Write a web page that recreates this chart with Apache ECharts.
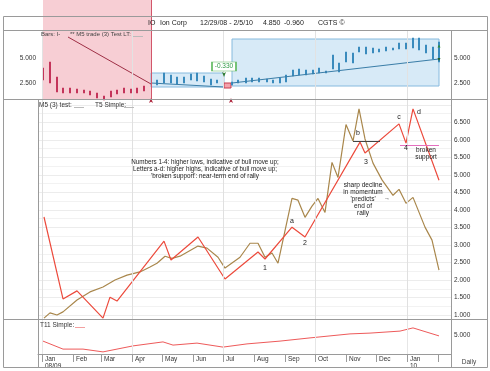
<!DOCTYPE html>
<html><head><meta charset="utf-8">
<script src="https://cdn.jsdelivr.net/npm/echarts@6/dist/echarts.min.js"></script>
<style>html,body{margin:0;padding:0;background:#fff}#c{width:490px;height:371px}</style>
</head><body><div id="c"></div>
<script>
// ---------- tick labels ----------
const monthLabels = ['Jan','Feb','Mar','Apr','May','Jun','Jul','Aug','Sep','Oct','Nov','Dec'];
const yearLabels = {2009:'08/09', 2010:'10'};
const topTickValues = [2.5, 5];
const bottomTickValues = [5];
const quarterDates = ['2009-01-01','2009-04-01','2009-07-01','2009-10-01','2010-01-01'];

// ---------- top panel: weekly bars (high / low) ----------
const barDates = ['2009-01-02','2009-01-09','2009-01-16','2009-01-22','2009-01-29','2009-02-05','2009-02-12','2009-02-18','2009-02-25','2009-03-04','2009-03-11','2009-03-17','2009-03-24','2009-03-31','2009-04-06','2009-04-13',
 '2009-04-26','2009-05-03','2009-05-10','2009-05-16','2009-05-23','2009-05-30','2009-06-05','2009-06-12','2009-06-19','2009-06-25',
 '2009-07-10','2009-07-16','2009-07-24','2009-07-30','2009-08-06','2009-08-14','2009-08-20','2009-08-27','2009-09-02','2009-09-09','2009-09-15','2009-09-22','2009-09-29','2009-10-05','2009-10-12','2009-10-19','2009-10-25','2009-11-01','2009-11-08','2009-11-14','2009-11-21','2009-11-28','2009-12-04','2009-12-11','2009-12-18','2009-12-24','2009-12-31','2010-01-07','2010-01-13','2010-01-20','2010-01-27','2010-02-02'];
const barHigh = [4.0,4.6,3.1,2.0,2.0,1.9,1.8,1.7,1.5,1.2,1.7,1.8,2.0,1.9,2.0,2.2,
 2.8,3.5,3.3,3.1,3.1,3.4,3.5,3.2,2.9,2.8,
 2.6,2.8,3.0,3.0,3.0,2.9,2.8,3.0,3.3,3.8,3.9,3.8,3.8,4.0,3.7,5.3,4.5,5.6,5.5,6.1,6.1,6.0,5.9,6.1,6.0,6.5,6.5,7.0,7.0,6.3,6.1,6.6];
const barLow = [2.8,2.5,1.6,1.5,1.5,1.5,1.5,1.3,1.0,0.8,1.1,1.4,1.5,1.5,1.5,1.7,
 2.3,2.5,2.5,2.4,2.5,2.8,2.7,2.6,2.3,2.5,
 2.3,2.5,2.5,2.6,2.6,2.6,2.5,2.5,2.6,3.2,3.3,3.3,3.4,3.5,3.5,3.9,3.6,4.6,4.5,5.6,5.4,5.5,5.6,5.7,5.8,5.9,5.9,6.0,5.8,5.5,4.9,4.6];
const pinkZoneDates = ['2009-01-02','2009-04-20'];
const trendRedDates = ['2009-01-27','2009-04-20'];
const trendRedValues = [7.1, 2.4];
const trendBlue1Dates = ['2009-04-20','2009-07-02'];
const trendBlue1Values = [2.5, 2.1];
const trendBlue2Dates = ['2009-07-10','2010-02-02'];
const trendBlue2Values = [2.5, 4.9];
const blueBoxes = [['2009-04-20','2009-07-02',3.5,2.1],['2009-07-10','2010-02-02',6.9,2.2]];
const redBox = ['2009-07-02','2009-07-09',2.5,2.0];
const changeLabel = ['2009-07-02', 4.15, '-0.330'];

// ---------- main panel ----------
const priceDates = ['2009-01-03','2009-01-22','2009-02-05','2009-03-03','2009-03-10','2009-03-17','2009-05-03','2009-05-10','2009-06-06','2009-07-03','2009-08-05','2009-08-12','2009-09-08','2009-09-21','2009-11-15','2009-11-20','2009-12-24','2009-12-31','2010-01-07','2010-02-02'];
const priceValues = [3.8,1.46,1.69,0.91,1.51,1.4,3.11,2.57,3.23,2.03,2.8,2.6,3.51,3.23,5.94,5.63,6.46,5.91,6.89,4.85];
const momDates = ['2009-01-03','2009-01-09','2009-01-16','2009-01-22','2009-02-05','2009-02-18','2009-03-03','2009-03-15','2009-03-27','2009-04-09','2009-04-19','2009-04-26','2009-05-04','2009-05-11','2009-05-19','2009-06-06','2009-06-15','2009-06-26','2009-07-03','2009-07-18','2009-07-28','2009-08-05','2009-08-12','2009-08-19','2009-08-25','2009-09-08','2009-09-14','2009-09-21','2009-09-28','2009-10-04','2009-10-11','2009-10-18','2009-10-24','2009-11-01','2009-11-08','2009-11-14','2009-11-20','2009-11-28','2009-12-07','2009-12-18','2009-12-24','2009-12-31','2010-01-07','2010-01-19','2010-01-26','2010-02-02'];
const momValues = [0.91,1.06,1.0,1.09,1.43,1.66,1.80,2.0,2.14,2.23,2.37,2.48,2.68,2.62,2.68,2.97,2.91,2.65,2.34,2.65,3.05,3.05,2.65,2.77,2.48,4.33,4.28,3.79,4.11,4.33,3.93,5.36,4.93,6.44,5.97,6.89,6.03,5.34,4.86,4.42,4.59,4.19,4.36,3.51,3.14,2.28];
const bSupport = ['2009-11-08','2009-12-05',5.97];
const brokenSupport = ['2009-12-25','2010-02-02',5.86];

// ---------- bottom panel ----------
const t11Dates = ['2009-01-02','2009-01-22','2009-02-11','2009-03-03','2009-04-02','2009-05-02','2009-05-12','2009-06-05','2009-07-01','2009-07-25','2009-08-27','2009-09-26','2009-11-05','2009-11-25','2009-12-25','2010-01-07','2010-02-02'];
const t11Values = [3.6,1.6,1.6,0.9,2.4,3.4,2.6,3.1,2.1,2.9,3.6,4.4,5.4,5.6,6.1,6.9,4.9];

// ================= build chart =================
const FONT = 'Liberation Sans, Arial, Helvetica, sans-serif';
const X_MIN = '2008-12-28', X_MAX = '2010-02-14';
const zip = (d, v) => d.map((x, i) => [x, v[i]]);
const pinkEnd = new Date(pinkZoneDates[1]).getTime();
const bars = barDates.map((d, i) => [d, barLow[i], barHigh[i], barLow[i], barHigh[i]]);
const pinkBars = bars.filter(b => new Date(b[0]).getTime() < pinkEnd);
const blueBars = bars.filter(b => new Date(b[0]).getTime() >= pinkEnd);

function hiddenX(gi) {
  return {type: 'time', gridIndex: gi, min: X_MIN, max: X_MAX, show: false};
}
const quarterLines = (color) => ({
  silent: true, symbol: 'none', animation: false,
  label: {show: false},
  lineStyle: {color: color, type: 'solid', width: 1},
  data: quarterDates.map(d => ({xAxis: d}))
});
const ann = (date, val, text, extra) => ({
  coord: [date, val], symbol: 'rect', symbolSize: 1, itemStyle: {color: 'rgba(0,0,0,0)'},
  label: Object.assign({show: true, position: 'inside', formatter: text, fontSize: 7, fontFamily: FONT, color: '#222', lineHeight: 7}, extra || {})
});

const gLine = (x1, y1, x2, y2, color) => ({type: 'line', z: 100, silent: true, shape: {x1, y1, x2, y2}, style: {stroke: color || '#9a9a9a', lineWidth: 1}});
const gText = (text, x, y, opts) => ({type: 'text', z: 101, silent: true, x: x, y: y,
  style: Object.assign({text: text, fontSize: 7, fontFamily: FONT, fill: '#222', align: 'left', verticalAlign: 'middle', textAlign: 'left', textVerticalAlign: 'middle'}, opts || {})});

const option = {
  animation: false,
  backgroundColor: '#fff',
  textStyle: {fontFamily: FONT},
  grid: [
    {left: 38, right: 39, top: 30, height: 69},
    {left: 38, right: 39, top: 99, height: 220},
    {left: 38, right: 39, top: 319, height: 35},
    {left: 38, right: 39, top: 0, height: 99}
  ],
  xAxis: [
    hiddenX(0), hiddenX(1),
    {type: 'time', gridIndex: 2, min: X_MIN, max: X_MAX,
     minInterval: 28 * 864e5, maxInterval: 31 * 864e5, splitNumber: 14,
     axisLine: {show: true, lineStyle: {color: '#9a9a9a'}},
     axisTick: {show: true, length: 8, lineStyle: {color: '#9a9a9a'}},
     splitLine: {show: false},
     axisLabel: {show: true, align: 'left', margin: 1, padding: [0, 0, 0, 3], fontSize: 6.5, lineHeight: 7.5,
       color: '#333', fontFamily: FONT, hideOverlap: false, showMinLabel: false,
       formatter: function (value) {
         const d = new Date(value); const m = d.getMonth(); const y = d.getFullYear();
         if (d.getTime() < new Date('2009-01-01').getTime() - 864e5) return '';
         if (y === 2010 && m >= 1) return '';
         let s = monthLabels[m];
         if (m === 0 && yearLabels[y]) s += '\n' + yearLabels[y];
         return s;
       }}},
    hiddenX(3)
  ],
  yAxis: [
    {type: 'value', gridIndex: 0, position: 'left', min: 0.9, max: 7.8,
     axisLine: {show: false}, axisTick: {show: false}, splitLine: {show: false},
     axisLabel: {customValues: topTickValues, margin: 2, fontSize: 6.5, color: '#333', fontFamily: FONT, formatter: v => v.toFixed(3)}},
    {type: 'value', gridIndex: 0, position: 'right', min: 0.9, max: 7.8,
     axisLine: {show: false}, axisTick: {show: false}, splitLine: {show: false},
     axisLabel: {customValues: topTickValues, margin: 3, fontSize: 6.5, color: '#333', fontFamily: FONT, formatter: v => v.toFixed(3)}},
    {type: 'value', gridIndex: 1, position: 'right', min: 0.886, max: 7.171, splitNumber: 12,
     axisLine: {show: false}, axisTick: {show: false},
     splitLine: {show: true, lineStyle: {color: '#ececec'}},
     minorTick: {show: false, splitNumber: 2},
     minorSplitLine: {show: true, lineStyle: {color: '#f2f2f2'}},
     axisLabel: {margin: 3, fontSize: 6.5, color: '#333', fontFamily: FONT, showMinLabel: false, showMaxLabel: false,
       formatter: v => (Math.abs(v * 2 - Math.round(v * 2)) < 1e-6 && v >= 1 && v <= 6.5) ? v.toFixed(3) : ''}},
    {type: 'value', gridIndex: 2, position: 'right', min: 0.375, max: 9.125,
     axisLine: {show: false}, axisTick: {show: false}, splitLine: {show: false},
     axisLabel: {customValues: bottomTickValues, margin: 3, fontSize: 6.5, color: '#333', fontFamily: FONT, formatter: v => v.toFixed(3)}},
    {type: 'value', gridIndex: 3, min: 0, max: 1, show: false}
  ],
  series: [
    // pink zone (spans title row and top panel)
    {type: 'line', xAxisIndex: 3, yAxisIndex: 4, z: 0, symbol: 'none', silent: true,
     data: [[pinkZoneDates[0], -1]],
     markArea: {silent: true, itemStyle: {color: 'rgba(232,110,128,0.34)'},
       data: [[{xAxis: pinkZoneDates[0]}, {xAxis: pinkZoneDates[1]}]]},
     markLine: {silent: true, symbol: 'none', label: {show: false}, lineStyle: {color: '#d2566a', type: 'solid', width: 1},
       data: [{xAxis: pinkZoneDates[1]}]}},
    // top panel: quarterly grid + boxes on blue bars
    {type: 'candlestick', name: 'blue bars', xAxisIndex: 0, yAxisIndex: 0, z: 3,
     barWidth: 1.6, data: blueBars,
     itemStyle: {color: '#3a8bbd', color0: '#3a8bbd', borderColor: '#3a8bbd', borderColor0: '#3a8bbd', borderWidth: 1},
     markLine: quarterLines('#e2e2e2'),
     markArea: {silent: true,
       data: blueBoxes.map(b => [{xAxis: b[0], yAxis: b[2], itemStyle: {color: 'rgba(150,200,235,0.38)', borderColor: '#86bade', borderWidth: 1}}, {xAxis: b[1], yAxis: b[3]}])
         .concat([[{xAxis: redBox[0], yAxis: redBox[2], itemStyle: {color: '#f3a3ad', borderColor: '#c83a4c', borderWidth: 1}}, {xAxis: redBox[1], yAxis: redBox[3]}]])},
     markPoint: {silent: true, data: [
       {coord: [changeLabel[0], changeLabel[1]], symbol: 'rect', symbolSize: [24, 9],
        itemStyle: {color: '#fff', borderColor: '#5cb85c', borderWidth: 1},
        label: {show: true, position: 'inside', formatter: changeLabel[2], fontSize: 6.5, color: '#2e9a44', fontFamily: FONT}},
       {coord: [changeLabel[0], 3.1], symbol: 'arrow', symbolRotate: 180, symbolSize: [3, 5], itemStyle: {color: '#2e7d32'}, label: {show: false}},
       {coord: [pinkZoneDates[1], 1.0], symbol: 'arrow', symbolSize: [3, 5], itemStyle: {color: '#b02a40'}, label: {show: false}},
       {coord: [redBox[1], 1.0], symbol: 'arrow', symbolSize: [3, 5], itemStyle: {color: '#b02a40'}, label: {show: false}},
       {coord: [trendBlue2Dates[1], 6.2], symbol: 'triangle', symbolSize: 3, itemStyle: {color: '#2e8b3e'}, label: {show: false}},
       {coord: [trendBlue2Dates[1], 4.85], symbol: 'triangle', symbolRotate: 180, symbolSize: 3, itemStyle: {color: '#1f5f2a'}, label: {show: false}}
     ]}},
    {type: 'candlestick', name: 'pink bars', xAxisIndex: 0, yAxisIndex: 0, z: 3,
     barWidth: 1.6, data: pinkBars,
     itemStyle: {color: '#c4345a', color0: '#c4345a', borderColor: '#c4345a', borderColor0: '#c4345a', borderWidth: 1}},
    {type: 'line', xAxisIndex: 0, yAxisIndex: 0, z: 4, symbol: 'none', data: zip(trendRedDates, trendRedValues),
     lineStyle: {color: '#9e2f45', width: 1}},
    {type: 'line', xAxisIndex: 0, yAxisIndex: 0, z: 4, symbol: 'none', data: zip(trendBlue1Dates, trendBlue1Values),
     lineStyle: {color: '#3b7ea8', width: 1.2}},
    {type: 'line', xAxisIndex: 0, yAxisIndex: 0, z: 4, symbol: 'none', data: zip(trendBlue2Dates, trendBlue2Values),
     lineStyle: {color: '#3b7ea8', width: 1.2}},
    // main panel
    {type: 'line', name: 'T5 Simple', xAxisIndex: 1, yAxisIndex: 2, z: 3, symbol: 'none',
     data: zip(momDates, momValues), lineStyle: {color: '#a9874c', width: 1.2},
     markLine: quarterLines('#e0e0e0')},
    {type: 'line', name: 'M5 (3) test', xAxisIndex: 1, yAxisIndex: 2, z: 4, symbol: 'none',
     data: zip(priceDates, priceValues), lineStyle: {color: '#ec4a3c', width: 1.2},
     markLine: {silent: true, symbol: 'none', label: {show: false}, data: [
       [{coord: [bSupport[0], bSupport[2]], lineStyle: {color: '#444', width: 1, type: 'solid'}}, {coord: [bSupport[1], bSupport[2]]}],
       [{coord: [brokenSupport[0], brokenSupport[2]], lineStyle: {color: '#e46fbf', width: 1, type: 'solid'}}, {coord: [brokenSupport[1], brokenSupport[2]]}]
     ]},
     markPoint: {silent: true, data: [
       ann('2009-06-13', 5.17, "Numbers 1-4: higher lows, indicative of bull move up;\nLetters a-d: higher highs, indicative of bull move up;\n'broken support': near-term end of rally", {align: 'center', fontSize: 6.3}),
       ann('2009-11-18', 4.31, "sharp decline\nin momentum\n'predicts'\nend of\nrally", {align: 'center', fontSize: 6.5}),
       ann('2009-12-12', 4.33, '\u2192', {fontSize: 6}),
       ann('2009-09-08', 3.69, 'a'),
       ann('2009-11-13', 6.2, 'b'),
       ann('2009-12-24', 6.66, 'c'),
       ann('2010-01-13', 6.8, 'd'),
       ann('2009-08-12', 2.34, '1'),
       ann('2009-09-21', 3.06, '2'),
       ann('2009-11-21', 5.37, '3'),
       ann('2009-12-31', 5.77, '4'),
       ann('2010-01-20', 5.62, 'broken\nsupport', {align: 'center', fontSize: 6.5})
     ]}},
    // bottom panel
    {type: 'line', name: 'T11 Simple', xAxisIndex: 2, yAxisIndex: 3, z: 3, symbol: 'none',
     data: zip(t11Dates, t11Values), lineStyle: {color: '#ee5a5a', width: 1},
     markLine: quarterLines('#e6e6e6')}
  ],
  graphic: [
    {type: 'rect', z: 100, silent: true, shape: {x: 3.5, y: 16.5, width: 484, height: 351}, style: {fill: 'none', stroke: '#9a9a9a', lineWidth: 1}},
    gLine(3.5, 30.5, 487.5, 30.5),
    gLine(3.5, 99.5, 487.5, 99.5),
    gLine(3.5, 319.5, 487.5, 319.5),
    gLine(38.5, 99.5, 38.5, 367.5),
    gLine(451.5, 30.5, 451.5, 367.5),
    gText('IO', 148, 23),
    gText('Ion Corp', 160, 23),
    gText('12/29/08 - 2/5/10', 200, 23),
    gText('4.850', 263, 23),
    gText('-0.960', 284, 23),
    gText('CGTS \u00a9', 318, 23),
    gText('Bars: I-', 41, 34, {fontSize: 6, fill: '#444'}),
    gText('** M5 trade (3) Test LT:', 70, 34, {fontSize: 6, fill: '#444'}),
    gLine(133, 36.5, 143, 36.5, '#bbbbbb'),
    gText('M5 (3) test:', 39, 105, {fontSize: 6.5, fill: '#333'}),
    gLine(74, 107.5, 84, 107.5, '#bbbbbb'),
    gText('T5 Simple:', 95, 105, {fontSize: 6.5, fill: '#333'}),
    gLine(124, 107.5, 134, 107.5, '#bbbbbb'),
    gText('T11 Simple:', 40, 325, {fontSize: 6.5, fill: '#333'}),
    gLine(75, 327.5, 85, 327.5, '#f3a0a0'),
    gText('Daily', 469, 362, {fontSize: 6.5, fill: '#444', align: 'center', textAlign: 'center'})
  ]
};
const chart = echarts.init(document.getElementById('c'));
chart.setOption(option);
</script>
</body></html>
